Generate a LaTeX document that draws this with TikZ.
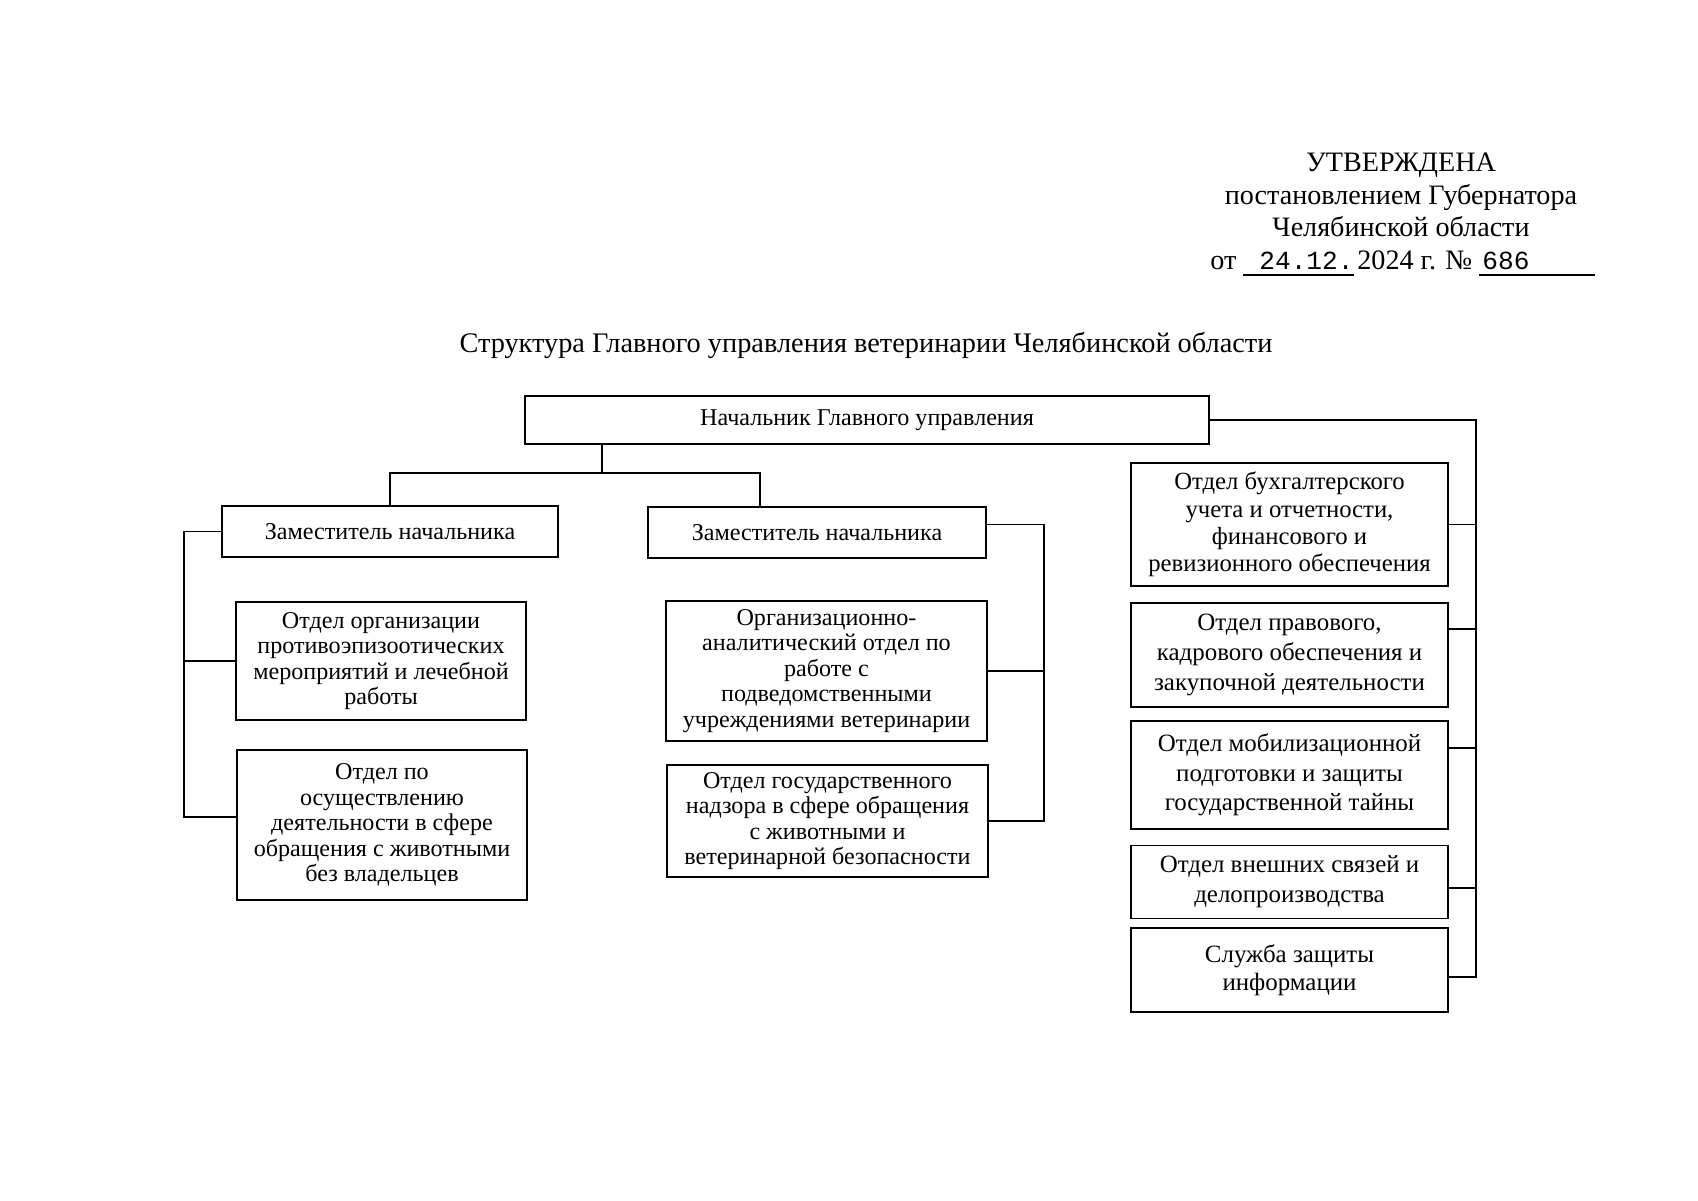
\documentclass[tikz,border=0pt]{standalone}
\usepackage{fontspec}
\setmainfont{Liberation Serif}
\setmonofont{Liberation Mono}
\usetikzlibrary{positioning,calc}
\newdimen\pxl
\pxl=0.17491mm
\tikzset{
  unit/.style={draw=black, line width=0.9pt, inner sep=0pt, align=center,
    font=\fontsize{12}{12.7}\selectfont},
  wing/.style={unit, minimum width=317\pxl, font=\fontsize{12.4}{14.6}\selectfont},
  link/.style={draw=black, line width=0.9pt},
  head/.style={font=\fontsize{14}{16}\selectfont, inner sep=0pt}
}

\begin{document}
\begin{tikzpicture}[x=0.17491mm, y=-0.17491mm]
  \useasboundingbox (0,0) rectangle (1698,1200);

  \node[head, align=center, anchor=north] (stamp) at (1401,153) {УТВЕРЖДЕНА\\постановлением Губернатора\\Челябинской области};
  \node[head, anchor=base west] (ot) at (1210,269) {от};
  \node[head, anchor=base west] (date) at (1259,269) {\fontsize{13}{16}\ttfamily 24.12.};
  \node[head, anchor=base west] (year) at (1357,269) {2024 г. №};
  \node[head, anchor=base west] (num) at (1482,269) {\fontsize{13}{16}\ttfamily 686};
  \draw[line width=0.6pt] ($(date.base west)+(-16,6)$) -- ($(date.base east)+(0,6)$);
  \draw[line width=0.6pt] ($(num.base west)+(-3,6)$) -- ($(num.base west)+(113,6)$);

  \node[head, font=\fontsize{14.1}{16}\selectfont] (title) at (866,345) {Структура Главного управления ветеринарии Челябинской области};

  \node[unit, minimum width=684\pxl, minimum height=48\pxl] (head) at (867,420) {Начальник Главного управления};
  \node[unit, minimum width=336\pxl, minimum height=51\pxl] (dep1) at (390,531.5) {Заместитель начальника};
  \node[unit, minimum width=338\pxl, minimum height=51\pxl] (dep2) at (817,532.5) {Заместитель начальника};

  \node[unit, minimum width=290\pxl, minimum height=118\pxl] (l1) at (381,661) {Отдел организации\\противоэпизоотических\\мероприятий и лечебной\\работы};
  \node[unit, minimum width=290\pxl, minimum height=150\pxl] (l2) at (382,825) {Отдел по\\осуществлению\\деятельности в сфере\\обращения с животными\\без владельцев};
  \node[unit, minimum width=321\pxl, minimum height=140\pxl] (m1) at (826.5,671) {Организационно-\\аналитический отдел по\\работе с\\подведомственными\\учреждениями ветеринарии};
  \node[unit, minimum width=321\pxl, minimum height=112\pxl] (m2) at (827.5,821) {Отдел государственного\\надзора в сфере обращения\\с животными и\\ветеринарной безопасности};

  \node[wing, minimum height=123\pxl, font=\fontsize{12.3}{13.6}\selectfont] (r1) at (1289.5,524.5) {Отдел бухгалтерского\\учета и отчетности,\\финансового и\\ревизионного обеспечения};
  \node[wing, minimum height=104\pxl, font=\fontsize{12.4}{15}\selectfont] (r2) at (1289.5,655) {Отдел правового,\\кадрового обеспечения и\\закупочной деятельности};
  \node[wing, minimum height=108\pxl] (r3) at (1289.5,775) {Отдел мобилизационной\\подготовки и защиты\\государственной тайны};
  \node[wing, minimum height=73\pxl, font=\fontsize{12.4}{15}\selectfont] (r4) at (1289.5,882) {Отдел внешних связей и\\делопроизводства};
  \node[wing, minimum height=84\pxl, font=\fontsize{12.4}{14}\selectfont] (r5) at (1289.5,970) {Служба защиты\\информации};

  \coordinate (hj) at (602,473);
  \coordinate (dj) at (760,473);
  \draw[link] (head.south -| hj) -- (hj);
  \draw[link] (dep1.north) |- (dj) -- (dj |- dep2.north);

  \coordinate (lv) at (184,817);
  \draw[link] (dep1.west) -| (lv) -- ($(l2.west)+(0,-8)$);
  \draw[link] (l1.west) -- (l1.west -| lv);

  \coordinate (mv) at (1044,821);
  \draw[link] ($(dep2.east)+(0,-8)$) -| (mv) -- (m2.east);
  \draw[link] (m1.east) -- (m1.east -| mv);

  \coordinate (rv) at (1476,977);
  \draw[link] (head.east) -| (rv) -- ($(r5.east)+(0,7)$);
  \foreach \n/\dy in {r1/0, r2/-26, r3/-27, r4/6} {
    \coordinate (\n t) at ($(\n.east)+(0,\dy)$);
    \draw[link] (\n t) -- (\n t -| rv);
  }
\end{tikzpicture}
\end{document}
